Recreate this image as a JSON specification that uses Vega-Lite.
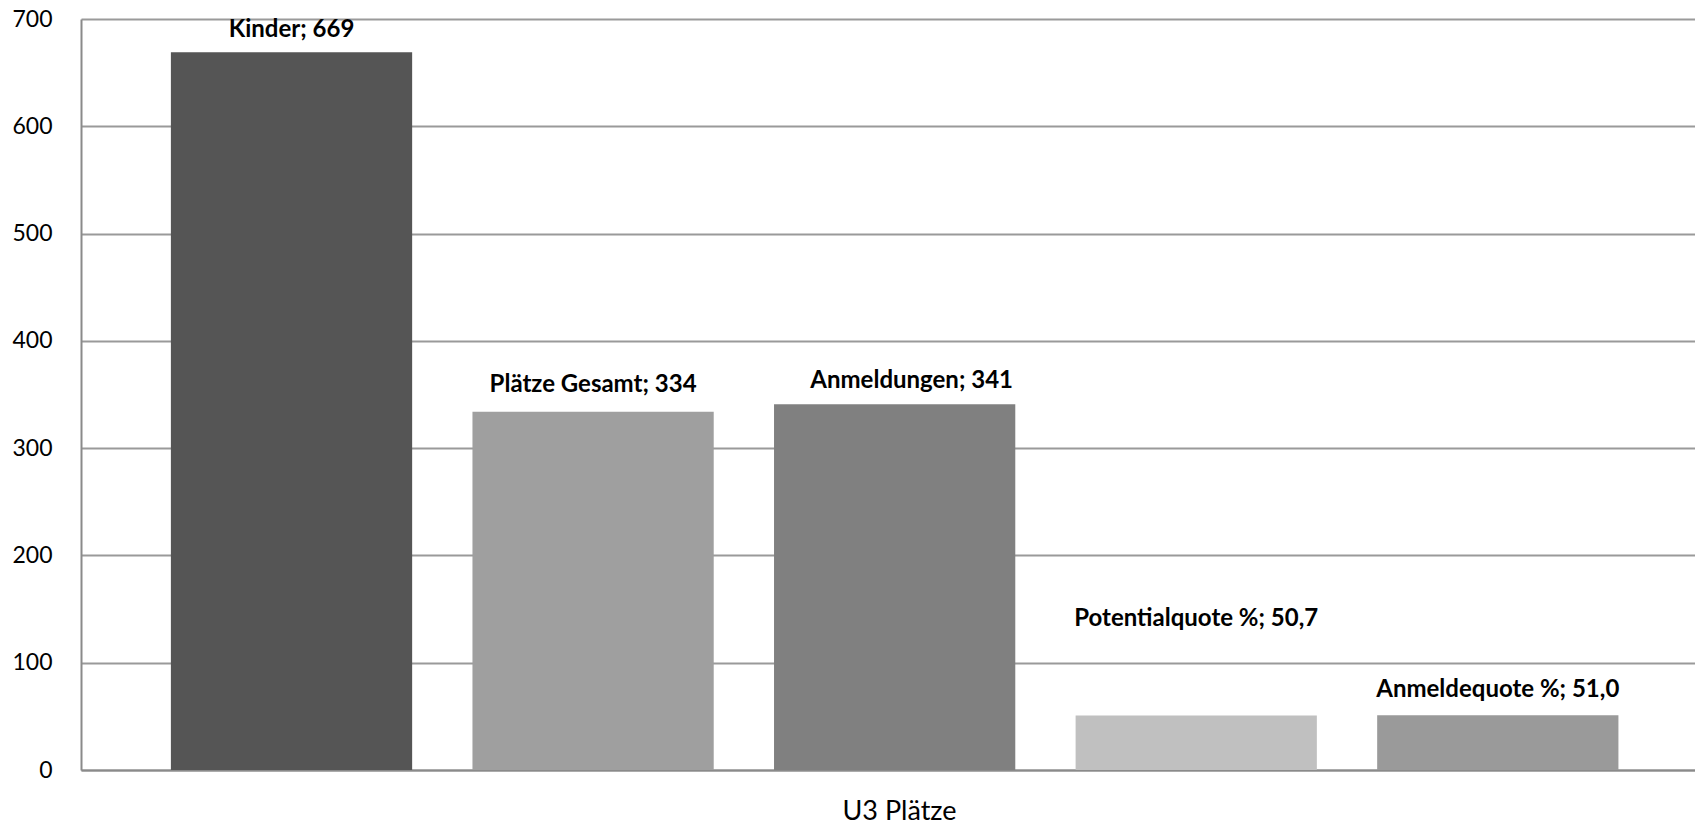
{
  "$schema": "https://vega.github.io/schema/vega-lite/v6.json",
  "width": 1614,
  "height": 751,
  "autosize": {"type": "none"},
  "padding": {"left": 81, "top": 19, "right": 0, "bottom": 55},
  "background": "white",
  "config": {
    "view": {"stroke": null},
    "font": "Lato",
    "axis": {"labelFont": "Lato", "titleFont": "Lato"}
  },
  "data": {
    "values": [
      {"series": "Kinder", "value": 669, "label": "Kinder; 669"},
      {"series": "Plätze Gesamt", "value": 334, "label": "Plätze Gesamt; 334"},
      {"series": "Anmeldungen", "value": 341, "label": "Anmeldungen; 341"},
      {"series": "Potentialquote %", "value": 50.7, "label": "Potentialquote %; 50,7"},
      {"series": "Anmeldequote %", "value": 51.0, "label": "Anmeldequote %; 51,0"}
    ]
  },
  "encoding": {
    "x": {
      "field": "series",
      "type": "nominal",
      "sort": null,
      "scale": {"paddingInner": 0.2, "paddingOuter": 0.276, "align": 0.54},
      "axis": {
        "labels": false,
        "ticks": false,
        "title": "U3 Plätze",
        "titleFontSize": 27,
        "titleFontWeight": "normal",
        "titleColor": "#000000",
        "titlePadding": 28,
        "titleX": 818,
        "domainColor": "#8a8a8a",
        "domainWidth": 2
      }
    },
    "y": {
      "field": "value",
      "type": "quantitative",
      "scale": {"domain": [0, 700], "nice": false},
      "axis": {
        "values": [0, 100, 200, 300, 400, 500, 600, 700],
        "title": null,
        "ticks": false,
        "labelFontSize": 23,
        "labelColor": "#000000",
        "labelPadding": 29,
        "gridColor": "#9a9a9a",
        "gridWidth": 2,
        "domainColor": "#8a8a8a",
        "domainWidth": 2
      }
    }
  },
  "layer": [
    {
      "mark": {"type": "bar"},
      "encoding": {
        "color": {
          "field": "series",
          "type": "nominal",
          "sort": null,
          "scale": {
            "domain": ["Kinder", "Plätze Gesamt", "Anmeldungen", "Potentialquote %", "Anmeldequote %"],
            "range": ["#555555", "#9f9f9f", "#808080", "#c0c0c0", "#9a9a9a"]
          },
          "legend": null
        }
      }
    },
    {
      "transform": [{"filter": "datum.series === 'Kinder'"}],
      "mark": {"type": "text", "fontWeight": "bold", "fontSize": 24, "dy": -22, "baseline": "middle", "color": "#000000"},
      "encoding": {"text": {"field": "label"}}
    },
    {
      "transform": [{"filter": "datum.series === 'Plätze Gesamt'"}],
      "mark": {"type": "text", "fontWeight": "bold", "fontSize": 24, "dy": -27, "baseline": "middle", "color": "#000000"},
      "encoding": {"text": {"field": "label"}}
    },
    {
      "transform": [{"filter": "datum.series === 'Anmeldungen'"}],
      "mark": {"type": "text", "fontWeight": "bold", "fontSize": 24, "dy": -23, "dx": 17, "baseline": "middle", "color": "#000000"},
      "encoding": {"text": {"field": "label"}}
    },
    {
      "transform": [{"filter": "datum.series === 'Potentialquote %'"}],
      "mark": {"type": "text", "fontWeight": "bold", "fontSize": 24, "dy": -97, "baseline": "middle", "color": "#000000"},
      "encoding": {"text": {"field": "label"}}
    },
    {
      "transform": [{"filter": "datum.series === 'Anmeldequote %'"}],
      "mark": {"type": "text", "fontWeight": "bold", "fontSize": 24, "dy": -25, "baseline": "middle", "color": "#000000"},
      "encoding": {"text": {"field": "label"}}
    }
  ]
}
